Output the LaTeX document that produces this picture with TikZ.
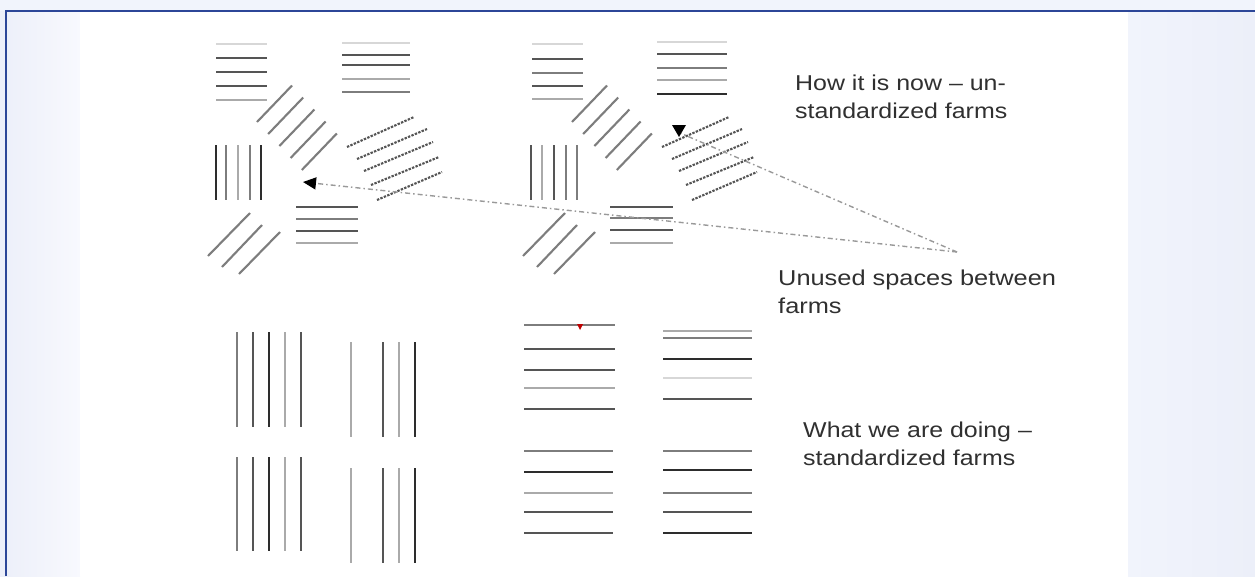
\documentclass[tikz,border=0pt]{standalone}
\usepackage{fontspec}
\setmainfont{Liberation Sans}
\usepackage{graphicx}
\usetikzlibrary{arrows.meta}
\definecolor{frameblue}{RGB}{44,70,152}
\definecolor{bgA}{RGB}{236,239,249}
\definecolor{bgB}{RGB}{248,249,254}
\definecolor{bgC}{RGB}{241,244,252}
\definecolor{txt}{RGB}{48,48,48}
\definecolor{cA}{RGB}{45,45,45}
\definecolor{cB}{RGB}{85,85,85}
\definecolor{cC}{RGB}{125,125,125}
\definecolor{cD}{RGB}{170,170,170}
\definecolor{cE}{RGB}{215,215,215}
\begin{document}
\begin{tikzpicture}[x=1pt,y=-1pt,
  farm/.style={line width=2.8pt},
  diag/.style={line width=2.1pt,draw=cC},
  dotl/.style={line width=2.1pt,draw=cB,dash pattern=on 2.4pt off 1.3pt},
  conn/.style={line width=1.4pt,draw=gray!80,dash pattern=on 5pt off 3pt on 1.5pt off 3pt},
  lbl/.style={anchor=base west,inner sep=0pt,text=txt,font=\fontsize{21.5}{28.5}\selectfont}]
\useasboundingbox (0,0) rectangle (1255,576);
% background
\fill[bgC] (0,0) rectangle (1255,576);
\shade[left color=bgA,right color=bgB] (0,11) rectangle (80,576);
\shade[left color=bgC,right color=bgA] (1128,11) rectangle (1255,576);
\fill[white] (80,12) rectangle (1128,576);
\draw[frameblue,line width=2.4pt] (6,576) -- (6,11) -- (1255,11);

% ---------- top-left cluster ----------
\foreach \yy/\cc in {44/cE,58/cB,72/cB,86/cB,100/cD}
  \draw[farm,draw=\cc] (216,\yy) -- (267,\yy);
\foreach \yy/\cc in {43/cE,55/cB,65/cB,79/cD,92/cC}
  \draw[farm,draw=\cc] (342,\yy) -- (410,\yy);
\foreach \i in {0,...,4}
  \draw[diag] ({257+11.2*\i},{122+12*\i}) -- ++(35,-36.5);
\foreach \xx/\cc in {216/cA,226/cC,238/cD,250/cC,261/cA}
  \draw[farm,draw=\cc] (\xx,145) -- (\xx,200);
\draw[dotl] (347,147) -- (414,117);
\draw[dotl] (357,159) -- (427,129);
\draw[dotl] (364,171) -- (433,142);
\draw[dotl] (371,185) -- (439,157);
\draw[dotl] (377,200) -- (442,172);
\foreach \yy/\cc in {207/cB,219/cC,231/cB,243/cD}
  \draw[farm,draw=\cc] (296,\yy) -- (358,\yy);
\draw[diag] (208,256) -- (250,213);
\draw[diag] (222,267) -- (262,225);
\draw[diag] (239,274) -- (280,232);

% ---------- top-right cluster ----------
\foreach \yy/\cc in {44/cE,59/cB,73/cC,86/cB,99/cD}
  \draw[farm,draw=\cc] (532,\yy) -- (583,\yy);
\foreach \yy/\cc in {42/cE,54/cB,68/cC,80/cD,94/cA}
  \draw[farm,draw=\cc] (657,\yy) -- (727,\yy);
\foreach \i in {0,...,4}
  \draw[diag] ({572+11.2*\i},{122+12*\i}) -- ++(35,-36.5);
\foreach \xx/\cc in {531/cB,542/cD,554/cB,566/cC,577/cC}
  \draw[farm,draw=\cc] (\xx,145) -- (\xx,200);
\draw[dotl] (662,147) -- (729,117);
\draw[dotl] (672,159) -- (742,129);
\draw[dotl] (679,171) -- (748,142);
\draw[dotl] (686,185) -- (754,157);
\draw[dotl] (692,200) -- (757,172);
\foreach \yy/\cc in {207/cB,218/cC,230/cB,243/cD}
  \draw[farm,draw=\cc] (610,\yy) -- (673,\yy);
\draw[diag] (523,256) -- (565,213);
\draw[diag] (537,267) -- (577,225);
\draw[diag] (554,274) -- (595,232);

% ---------- connectors ----------
\coordinate (hub) at (957,252);
\coordinate (tipL) at (303,182);
\coordinate (tipT) at (680,133);
\draw[conn,-{Triangle[length=13pt,width=12pt,color=black]}] (hub) -- (tipL);
\draw[conn] (hub) -- (tipT);
\fill[black] (672,125) -- (686,125) -- (679,137) -- cycle;

% ---------- bottom-left: standardized vertical farms ----------
\foreach \xx/\cc in {237/cC,253/cB,269/cA,285/cD,301/cB} {
  \draw[farm,draw=\cc] (\xx,332) -- (\xx,427);
  \draw[farm,draw=\cc] (\xx,457) -- (\xx,551);
}
\foreach \xx/\cc in {351/cD,383/cB,399/cD,415/cA} {
  \draw[farm,draw=\cc] (\xx,342) -- (\xx,437);
  \draw[farm,draw=\cc] (\xx,468) -- (\xx,563);
}

% ---------- bottom-right: standardized horizontal farms ----------
\foreach \yy/\cc in {325/cC,349/cB,370/cB,388/cD,409/cB}
  \draw[farm,draw=\cc] (524,\yy) -- (615,\yy);
\fill[red!75!black] (577,324) -- (583,324) -- (580,330) -- cycle;
\foreach \yy/\cc in {331/cD,338/cC,359/cA,378/cE,399/cB}
  \draw[farm,draw=\cc] (663,\yy) -- (752,\yy);
\foreach \yy/\cc in {451/cC,472/cA,493/cD,512/cB,533/cB}
  \draw[farm,draw=\cc] (524,\yy) -- (613,\yy);
\foreach \yy/\cc in {451/cC,470/cA,493/cC,512/cB,533/cA}
  \draw[farm,draw=\cc] (663,\yy) -- (752,\yy);

% ---------- labels ----------
\node[lbl] (now) at (795,90) {\scalebox{1.16}[1]{\begin{tabular}[t]{@{}l@{}}How it is now – un-\\standardized farms\end{tabular}}};
\node[lbl] (unused) at (778,285) {\scalebox{1.18}[1]{\begin{tabular}[t]{@{}l@{}}Unused spaces between\\farms\end{tabular}}};
\node[lbl] (doing) at (803,437) {\scalebox{1.16}[1]{\begin{tabular}[t]{@{}l@{}}What we are doing –\\standardized farms\end{tabular}}};
\end{tikzpicture}
\end{document}
